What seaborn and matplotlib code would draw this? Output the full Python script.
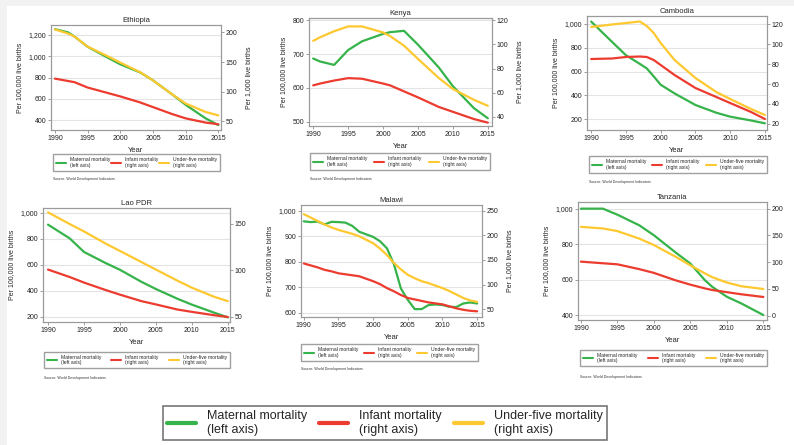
import matplotlib.pyplot as plt
import seaborn as sns
from matplotlib.lines import Line2D
from matplotlib.patches import Rectangle
from matplotlib.ticker import FuncFormatter

sns.set_style("white")
plt.rcParams["font.family"] = ["Liberation Sans", "DejaVu Sans"]

GREEN = "#36b34a"
RED = "#ec3b2f"
YELLOW = "#fdc830"

# ---- data ----
eth_years = [1990, 1992, 1993, 1995, 1998, 2000, 2003, 2005, 2008, 2010, 2013, 2015]
eth_maternal = [1255, 1225, 1185, 1090, 990, 925, 850, 775, 640, 545, 420, 355]
eth_infant = [122, 118, 116, 107, 98, 92, 82, 74, 62, 55, 48, 45]
eth_under5 = [205, 198, 193, 176, 160, 149, 133, 119, 95, 80, 66, 60]

ken_years = [1990, 1991, 1993, 1995, 1997, 2000, 2001, 2003, 2005, 2008, 2010, 2013, 2015]
ken_maternal = [687, 678, 668, 712, 738, 760, 765, 769, 728, 660, 605, 540, 510]
ken_infant = [66, 67.5, 70, 72, 71.5, 67.5, 66, 61, 56, 48, 44, 38, 35]
ken_under5 = [103, 106, 111, 115, 115, 110, 107, 99, 88, 72, 63, 54, 49]

cam_years = [1990, 1993, 1995, 1997, 1998, 1999, 2000, 2002, 2005, 2008, 2010, 2013, 2015]
cam_maternal = [1020, 850, 738, 665, 627, 560, 490, 417, 320, 255, 222, 190, 166]
cam_infant = [85, 85.5, 87, 87.5, 87, 84, 79, 69, 56, 47, 41, 32, 25]
cam_under5 = [117, 119.5, 121, 122.5, 118, 111, 101, 84, 66, 52, 45, 35, 29]

lao_years = [1990, 1993, 1995, 1998, 2000, 2003, 2005, 2008, 2010, 2013, 2015]
lao_maternal = [910, 805, 700, 615, 563, 470, 415, 340, 295, 235, 197]
lao_infant = [101, 93, 87, 79, 74, 67, 63.5, 58, 55.5, 52, 50]
lao_under5 = [162.5, 150, 142, 129, 121, 109, 101, 89, 81.5, 72, 67]

mwi_years = [1990, 1991, 1992, 1993, 1994, 1995, 1996, 1997, 1998, 2000, 2001, 2002,
             2003, 2004, 2005, 2006, 2007, 2008, 2009, 2010, 2011, 2012, 2013, 2014, 2015]
mwi_maternal = [958, 955, 957, 946, 956, 955, 953, 940, 917, 897, 880, 852,
                790, 695, 650, 614, 614, 630, 632, 630, 623, 622, 636, 640, 636]
mwi_infant = [143, 139, 135, 130, 127, 123, 121, 119, 117, 107, 101, 93,
              86.5, 79, 73, 70, 67, 64, 62, 60, 56, 52, 49, 47, 46]
mwi_under5 = [243, 236, 229, 222, 216, 211, 207, 203, 198, 184, 173, 160,
              144, 131, 120, 113, 107, 103, 98, 93, 87, 80, 73, 68, 65]

tza_years = [1990, 1993, 1995, 1998, 2000, 2003, 2005, 2007, 2008, 2010, 2012, 2015]
tza_maternal = [1000, 1000, 966, 906, 850, 752, 690, 596, 559, 503, 465, 400]
tza_infant = [101, 98, 96, 87, 80, 66, 58, 51, 48, 44, 40, 35]
tza_under5 = [166, 163, 158, 144, 132, 110, 94, 79, 72, 62, 55, 50]

legend_labels = ["Maternal mortality\n(left axis)", "Infant mortality\n(right axis)",
                 "Under-five mortality\n(right axis)"]
left_label = "Per 100,000 live births"
right_label = "Per 1,000 live births"
source_text = "Source: World Development Indicators"

W, H = 794, 445
fig = plt.figure(figsize=(W / 100, H / 100), dpi=100)
fig.patch.set_facecolor("#f2f2f2")
fig.add_artist(Rectangle((7 / W, 0), 1 - 7 / W, 1 - 6 / H, transform=fig.transFigure,
                         facecolor="white", edgecolor="none", zorder=-1))


def fbox(x0, y0, x1, y1):
    return [x0 / W, 1 - y1 / H, (x1 - x0) / W, (y1 - y0) / H]


comma = FuncFormatter(lambda v, p: f"{int(v):,}")

panels = [
    dict(name="Ethiopia", years=eth_years, m=eth_maternal, i=eth_infant, u=eth_under5,
         box=(51, 25, 221, 130), xl=(1989.4, 2015.4), yl=(309, 1294), yr=(35.4, 212.4),
         lt=[400, 600, 800, 1000, 1200], rt=[50, 100, 150, 200],
         leg=(53, 153, 220, 172), src=179, rlab=True),
    dict(name="Kenya", years=ken_years, m=ken_maternal, i=ken_infant, u=ken_under5,
         box=(309, 18, 492, 126), xl=(1989.4, 2015.6), yl=(487, 807), yr=(32.2, 122),
         lt=[500, 600, 700, 800], rt=[40, 60, 80, 100, 120],
         leg=(310, 153, 490, 170), src=179, rlab=True),
    dict(name="Cambodia", years=cam_years, m=cam_maternal, i=cam_infant, u=cam_under5,
         box=(587, 16, 767, 130), xl=(1989.4, 2015.3), yl=(110, 1067), yr=(14, 128),
         lt=[200, 400, 600, 800, 1000], rt=[20, 40, 60, 80, 100, 120],
         leg=(589, 156, 767, 173), src=182, rlab=False),
    dict(name="Lao PDR", years=lao_years, m=lao_maternal, i=lao_infant, u=lao_under5,
         box=(43, 208, 230, 322), xl=(1989.3, 2015.3), yl=(161.5, 1038), yr=(44.6, 167.2),
         lt=[200, 400, 600, 800, 1000], rt=[50, 100, 150],
         leg=(44, 351, 230, 369), src=378, rlab=False),
    dict(name="Malawi", years=mwi_years, m=mwi_maternal, i=mwi_infant, u=mwi_under5,
         box=(301, 205, 482, 317), xl=(1989.6, 2015.7), yl=(583, 1022), yr=(34.4, 261.5),
         lt=[600, 700, 800, 900, 1000], rt=[50, 100, 150, 200, 250],
         leg=(301, 344, 478, 361), src=369, rlab=True),
    dict(name="Tanzania", years=tza_years, m=tza_maternal, i=tza_infant, u=tza_under5,
         box=(578, 202, 767, 320), xl=(1989.6, 2015.5), yl=(372, 1037.5), yr=(-8, 212.4),
         lt=[400, 600, 800, 1000], rt=[0, 50, 100, 150, 200],
         leg=(580, 349, 767, 367), src=377, rlab=False),
]

handles = [Line2D([], [], color=c, lw=1.5) for c in (GREEN, RED, YELLOW)]

for p in panels:
    ax = fig.add_axes(fbox(*p["box"]))
    ax2 = ax.twinx()
    sns.lineplot(x=p["years"], y=p["m"], ax=ax, color=GREEN, lw=1.6)
    sns.lineplot(x=p["years"], y=p["i"], ax=ax2, color=RED, lw=1.6)
    sns.lineplot(x=p["years"], y=p["u"], ax=ax2, color=YELLOW, lw=1.6)

    ax.set_xlim(*p["xl"])
    ax.set_ylim(*p["yl"])
    ax2.set_ylim(*p["yr"])
    ax.set_xticks([1990, 1995, 2000, 2005, 2010, 2015])
    ax.set_yticks(p["lt"])
    ax2.set_yticks(p["rt"])
    ax.yaxis.set_major_formatter(comma)
    ax.grid(axis="y", color="#e3e3e3", lw=0.8)
    ax.set_axisbelow(True)
    for a in (ax, ax2):
        for s in a.spines.values():
            s.set_color("#9a9a9a")
            s.set_linewidth(0.8)
        a.tick_params(labelsize=5, length=2, width=0.5, color="#777", pad=1.5,
                      labelcolor="#222")
    ax.tick_params(axis="x", bottom=True)
    ax.tick_params(axis="y", left=True)
    ax.set_title(p["name"], fontsize=5.5, pad=2)
    ax.set_xlabel("Year", fontsize=5.5, labelpad=4)
    ax.set_ylabel(left_label, fontsize=5, labelpad=4)
    if p["rlab"]:
        ax2.set_ylabel(right_label, fontsize=5, labelpad=5)
    else:
        ax2.set_ylabel("")

    x0, y0, x1, y1 = p["leg"]
    ax.legend(handles, legend_labels, ncol=3, loc="center", mode="expand",
              bbox_to_anchor=(x0 / W, 1 - y1 / H, (x1 - x0) / W, (y1 - y0) / H),
              bbox_transform=fig.transFigure, fontsize=3.6, frameon=True,
              fancybox=False, edgecolor="#888", handlelength=2.0,
              handletextpad=0.8, borderpad=0.55, borderaxespad=0)
    fig.text(x0 / W, 1 - p["src"] / H, source_text, fontsize=2.6, color="#333",
             va="center", ha="left")

big = [Line2D([], [], color=c, lw=3) for c in (GREEN, RED, YELLOW)]
fig.legend(big, legend_labels, ncol=3, loc="center", mode="expand",
           bbox_to_anchor=(163 / W, 1 - 444 / H, (607 - 163) / W, 42 / H),
           fontsize=9, frameon=True, fancybox=False, edgecolor="#555",
           handlelength=2.3, handletextpad=0.9, borderpad=0.3, borderaxespad=0,
           labelspacing=0.1).get_frame().set_linewidth(1.2)

fig.savefig("out.png", dpi=100)
